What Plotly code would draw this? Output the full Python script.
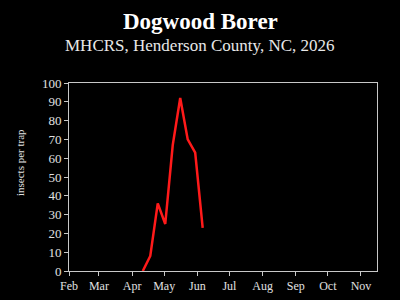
import plotly.graph_objects as go

dates = ["2026-04-11", "2026-04-18", "2026-04-25", "2026-05-02", "2026-05-09",
         "2026-05-16", "2026-05-23", "2026-05-30", "2026-06-06"]
counts = [0, 8, 36, 25, 67, 92, 70, 63, 23]

tick_vals = ["2026-02-01", "2026-03-01", "2026-04-01", "2026-05-01", "2026-06-01",
             "2026-07-01", "2026-08-01", "2026-09-01", "2026-10-01", "2026-11-01"]
tick_text = ["Feb", "Mar", "Apr", "May", "Jun", "Jul", "Aug", "Sep", "Oct", "Nov"]

serif = "Liberation Serif, Times New Roman, serif"
axis_col = "#c8c8c8"

W, H = 400, 300
ML, MR, MT, MB = 69, 23, 83, 29
pw, ph = W - ML - MR, H - MT - MB


def py(ypx):
    return (H - MB - ypx) / ph


def px(xpx):
    return (xpx - ML) / pw


fig = go.Figure(go.Scatter(x=dates, y=counts, mode="lines",
                           line=dict(color="#ff1a1a", width=2.5)))

fig.update_layout(
    width=W, height=H,
    paper_bgcolor="black", plot_bgcolor="black",
    margin=dict(l=ML, r=MR, t=MT, b=MB, autoexpand=False),
    showlegend=False,
    font=dict(family=serif, color="#e0e0e0"),
    annotations=[
        dict(text="<b>Dogwood Borer</b>", x=px(200), y=py(21), xref="paper", yref="paper",
             showarrow=False, yanchor="middle",
             font=dict(size=23, color="white", family=serif)),
        dict(text="MHCRS, Henderson County, NC, 2026", x=px(200), y=py(45), xref="paper",
             yref="paper", showarrow=False, yanchor="middle",
             font=dict(size=17, color="#e8e8e8", family=serif)),
        dict(text="insects per trap", x=px(20), y=py(163), xref="paper", yref="paper",
             showarrow=False, textangle=-90, xanchor="center", yanchor="middle",
             font=dict(size=11, color="#e0e0e0", family=serif)),
    ],
)

fig.update_xaxes(
    type="date", range=["2026-02-01", "2026-11-16"],
    tickvals=tick_vals, ticktext=tick_text,
    showgrid=False, zeroline=False, automargin=False,
    showline=True, linecolor=axis_col, linewidth=1, mirror=True,
    ticks="outside", ticklen=4, tickcolor=axis_col,
    tickfont=dict(size=12, color="#e0e0e0", family=serif),
)
fig.update_yaxes(
    range=[0, 100], tickvals=list(range(0, 101, 10)),
    showgrid=False, zeroline=False, automargin=False,
    showline=True, linecolor=axis_col, linewidth=1, mirror=True,
    ticks="outside", ticklen=4, tickcolor=axis_col,
    tickfont=dict(size=13, color="#e0e0e0", family=serif),
)

fig.write_html("out.html")
